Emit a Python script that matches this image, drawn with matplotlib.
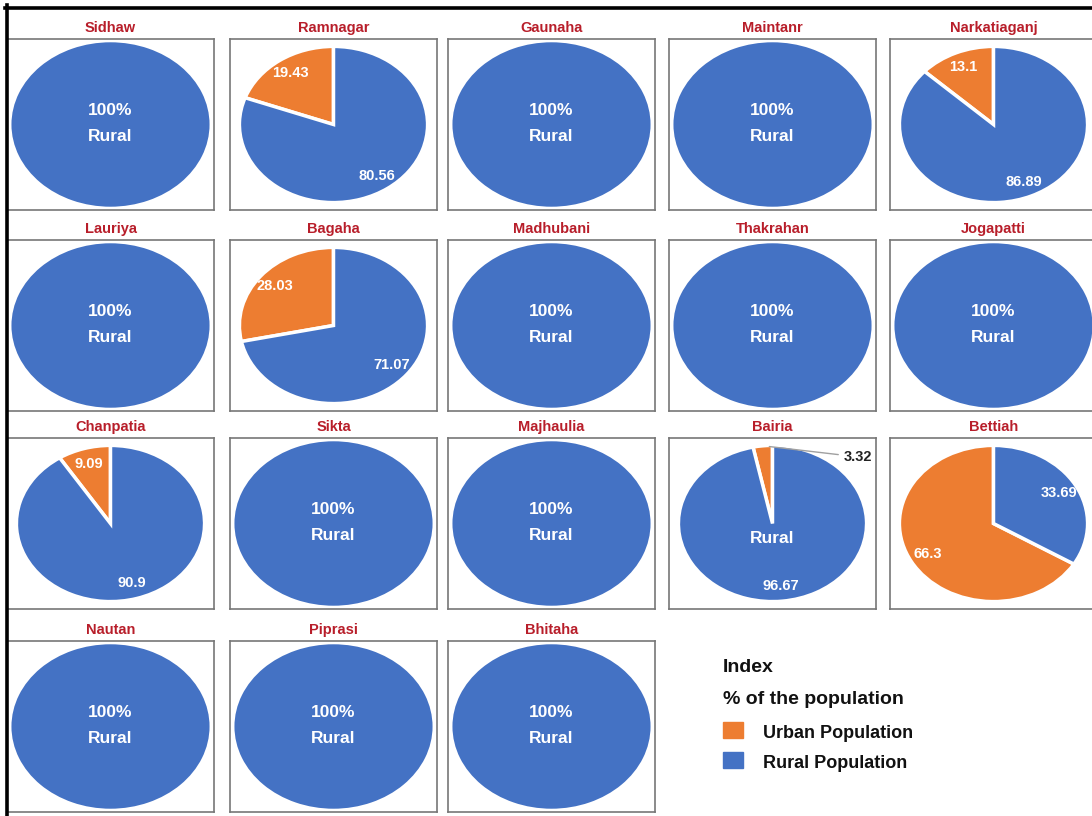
import matplotlib.pyplot as plt
from matplotlib.patches import Rectangle
from matplotlib.lines import Line2D

plt.rcParams['font.family'] = ['Liberation Sans', 'DejaVu Sans']

blocks = ['Sidhaw', 'Ramnagar', 'Gaunaha', 'Maintanr', 'Narkatiaganj',
          'Lauriya', 'Bagaha', 'Madhubani', 'Thakrahan', 'Jogapatti',
          'Chanpatia', 'Sikta', 'Majhaulia', 'Bairia', 'Bettiah',
          'Nautan', 'Piprasi', 'Bhitaha']
urban = [0, 19.43, 0, 0, 13.1,
         0, 28.03, 0, 0, 0,
         9.09, 0, 0, 3.32, 66.3,
         0, 0, 0]
rural = [100, 80.56, 100, 100, 86.89,
         100, 71.07, 100, 100, 100,
         90.9, 100, 100, 96.67, 33.69,
         100, 100, 100]
legend_labels = ['Urban Population', 'Rural Population']

BLUE = '#4472C4'
ORANGE = '#ED7D31'
TITLE_RED = '#B81E2A'

W, H = 1092, 816
fig = plt.figure(figsize=(W / 100, H / 100), dpi=100)

col_left = [7, 230, 448, 669, 890]
row_top = [39, 240, 438, 641]
box_w, box_h = 207, 171


def fx(x):
    return x / W


def fy(y):
    return 1 - y / H


for i, name in enumerate(blocks):
    r, c = divmod(i, 5)
    left, top = col_left[c], row_top[r]
    ax = fig.add_axes([fx(left), fy(top + box_h), box_w / W, box_h / H])

    if urban[i] == 0:
        ax.pie([rural[i]], colors=[BLUE], startangle=90,
               wedgeprops=dict(linewidth=0))
        ax.text(0, 0.17, '100%', color='white', fontsize=12.5,
                fontweight='bold', ha='center', va='center')
        ax.text(0, -0.14, 'Rural', color='white', fontsize=12.5,
                fontweight='bold', ha='center', va='center')
    else:
        wedges, texts = ax.pie(
            [urban[i], rural[i]], colors=[ORANGE, BLUE], startangle=90,
            counterclock=True, radius=0.95,
            labels=[f'{urban[i]:g}', f'{rural[i]:g}'], labeldistance=0.8,
            wedgeprops=dict(edgecolor='white', linewidth=2.5),
            textprops=dict(color='white', fontweight='bold', fontsize=10.5))
        for t in texts:
            t.set_ha('center')
            t.set_va('center')
        if urban[i] < 5:
            # tiny slice: label outside with a leader line
            texts[0].set_visible(False)
            ax.annotate(f'{urban[i]:g}', xy=(-0.06, 0.94), xytext=(0.72, 0.81),
                        color='#222222', fontsize=10.5, fontweight='bold',
                        ha='left', va='center',
                        arrowprops=dict(arrowstyle='-', color='#A0A0A0', lw=1))
            ax.text(0, -0.18, 'Rural', color='white', fontsize=12.5,
                    fontweight='bold', ha='center', va='center')

    ax.set_aspect('auto')
    ax.set_xlim(-1.045, 1.045)
    ax.set_ylim(-1.04, 1.04)
    ax.set_frame_on(True)
    ax.set_xticks([])
    ax.set_yticks([])
    for s in ax.spines.values():
        s.set_color('#777777')
        s.set_linewidth(1.2)

    fig.text(fx(left + box_w / 2), fy(top - 11), name, color=TITLE_RED,
             fontsize=10.5, fontweight='bold', ha='center', va='center')

# outer frame lines (top and left)
fig.add_artist(Line2D([fx(5), fx(W)], [fy(7.5), fy(7.5)], color='black', lw=2.6))
fig.add_artist(Line2D([fx(6.5), fx(6.5)], [fy(5), fy(H)], color='black', lw=2.6))

# legend
fig.text(fx(723), fy(668), 'Index', fontsize=14, fontweight='bold',
         color='#111111', va='center')
fig.text(fx(723), fy(700), '% of the population', fontsize=14,
         fontweight='bold', color='#111111', va='center')
for k, (lab, col) in enumerate(zip(legend_labels, [ORANGE, BLUE])):
    yc = 730 + k * 30
    fig.add_artist(Rectangle((fx(723), fy(yc + 8)), 20 / W, 16 / H,
                             transform=fig.transFigure, color=col))
    fig.text(fx(763), fy(yc + 3), lab, fontsize=13, fontweight='bold',
             color='#111111', va='center')

fig.savefig('out.png', dpi=100)
